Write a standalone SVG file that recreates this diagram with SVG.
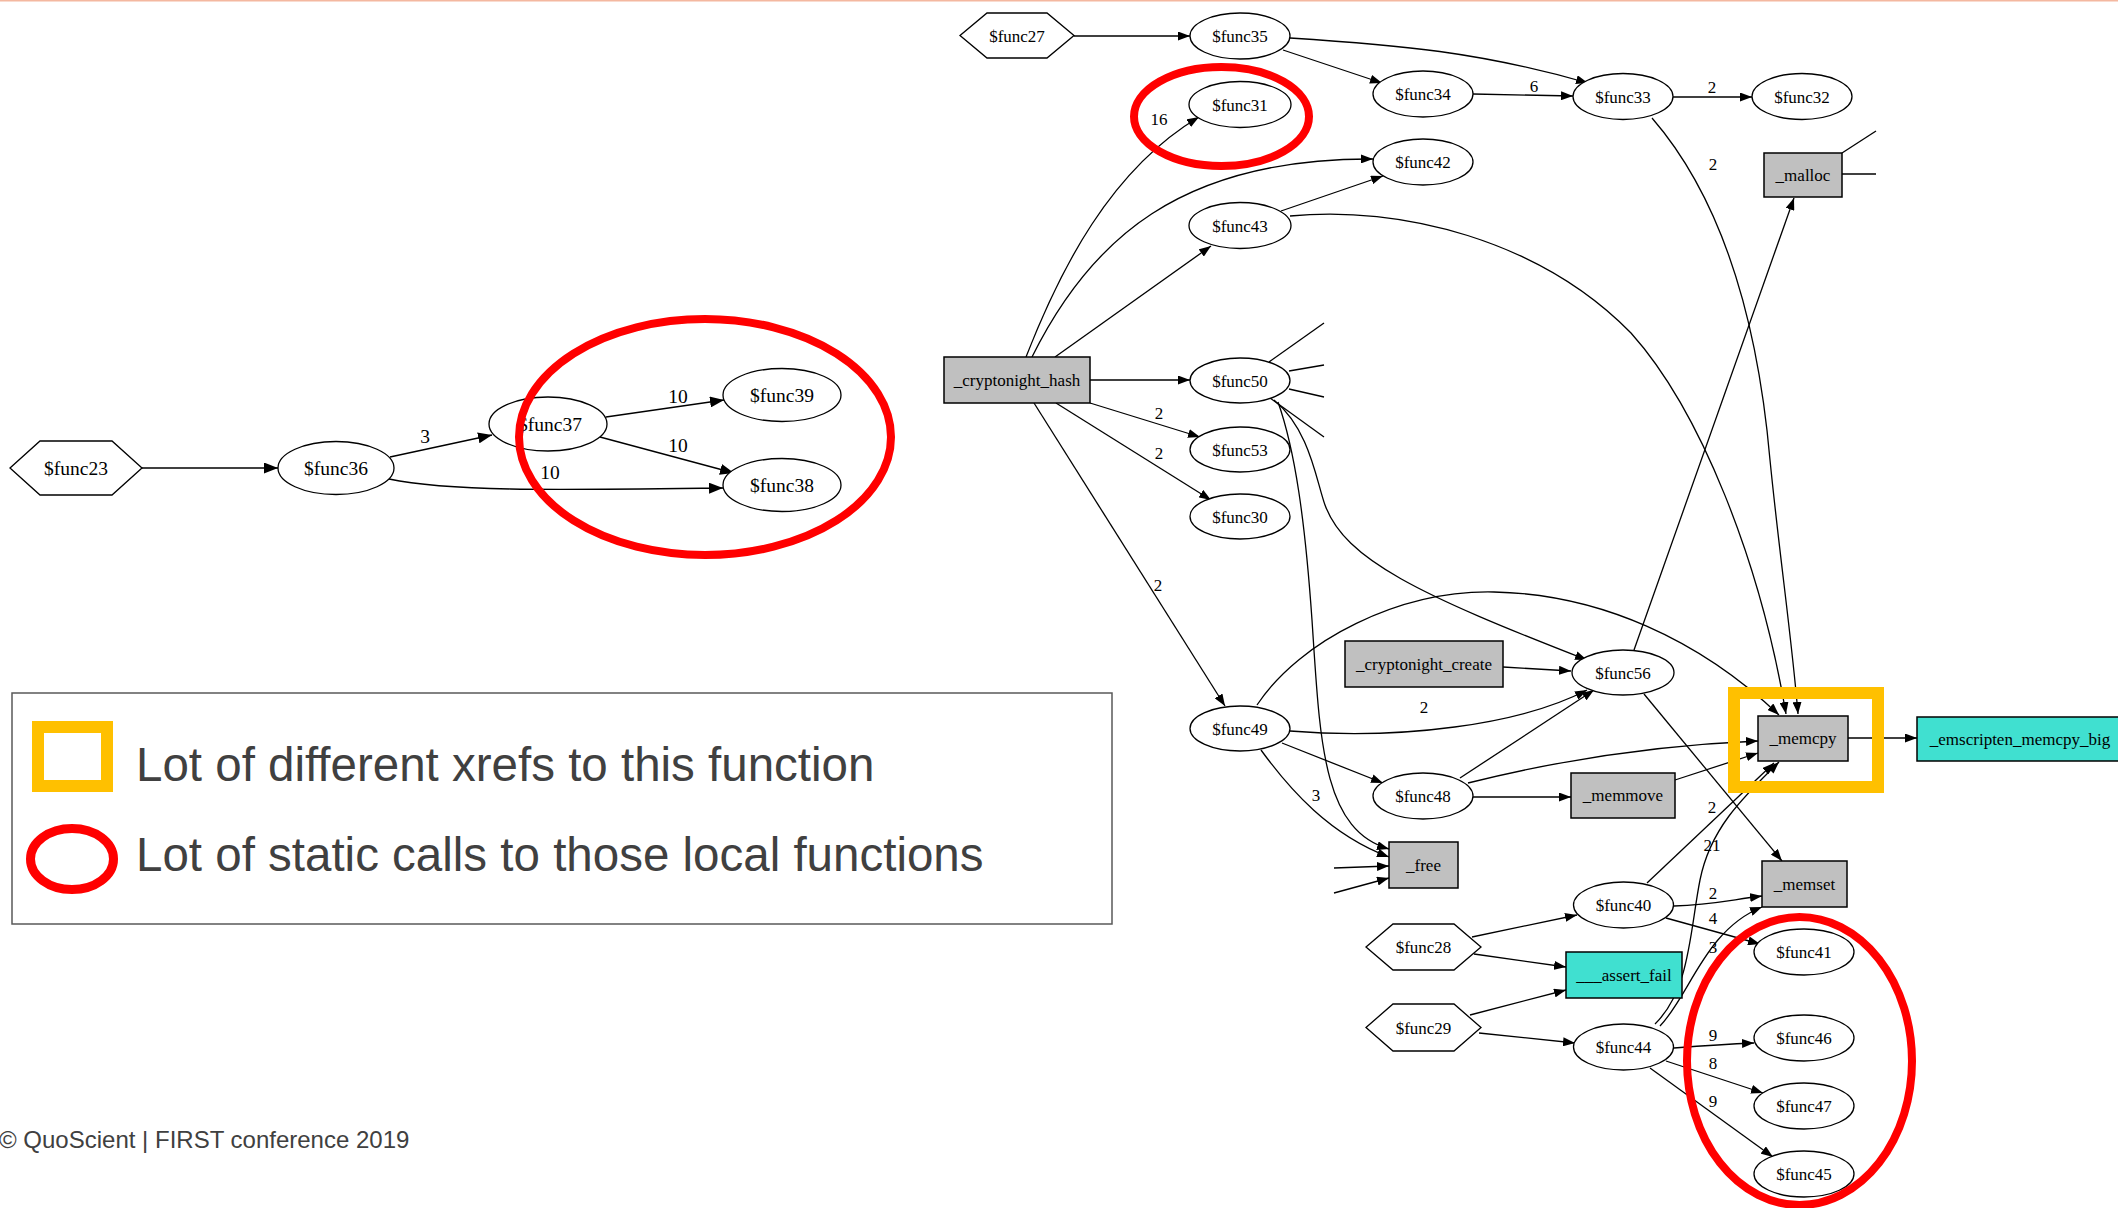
<svg xmlns="http://www.w3.org/2000/svg" width="2118" height="1208" viewBox="0 0 2118 1208">
<style>
.bg{fill:#ffffff}
.n ellipse{fill:#ffffff;stroke:#000;stroke-width:1.3}
.n polygon{fill:#ffffff;stroke:#000;stroke-width:1.3}
.g rect{fill:#c0c0c0;stroke:#000;stroke-width:1.5}
.c rect{fill:#40e0d0;stroke:#000;stroke-width:1.5}
text{font-family:"Liberation Serif","Times New Roman",serif;fill:#000;text-anchor:middle}
.s text{font-size:17px}
.L text{font-size:19.5px}
.e path{fill:none;stroke:#000;stroke-width:1.3}
.e .a{marker-end:url(#ar)}
.e .b{marker-end:url(#arL)}
.lbl{font-size:17px}
.lblL{font-size:19.5px}
.red{fill:none;stroke:#ff0000;stroke-width:8}
.leg{font-family:"Liberation Sans",Arial,sans-serif;fill:#404040;text-anchor:start}
</style>
<defs>
<marker id="ar" markerUnits="userSpaceOnUse" markerWidth="12" markerHeight="9" refX="12" refY="4.5" orient="auto">
<path d="M0,0 L12,4.5 L0,9 z" fill="#000"/>
</marker>
<marker id="arL" markerUnits="userSpaceOnUse" markerWidth="14" markerHeight="11" refX="14" refY="5.5" orient="auto">
<path d="M0,0 L14,5.5 L0,11 z" fill="#000"/>
</marker>
</defs>
<rect class="bg" x="0" y="0" width="2118" height="1208"/>
<rect x="0" y="0" width="2118" height="1.5" fill="#f4b8a0"/>

<!-- connectors -->
<g id="connectors" class="e">
<!-- left graph -->
<path class="b" d="M142,468 L278,468"/>
<path class="b" d="M390,457 L492,435"/>
<path class="b" d="M606,417 L724,400"/>
<path class="b" d="M600,437 L734,473"/>
<path class="b" d="M389,479 C450,492 560,490 723,488"/>
<!-- right graph -->
<path class="a" d="M1074,36 L1190,36"/>
<path class="a" d="M1283,50 L1382,83"/>
<path class="a" d="M1290,38 C1400,45 1480,52 1588,83"/>
<path class="a" d="M1473,94 L1573,96"/>
<path class="a" d="M1673,97 L1752,97"/>
<path class="a" d="M1026,357 C1060,270 1110,170 1199,117"/>
<path class="a" d="M1032,357 C1090,240 1180,158 1373,159"/>
<path class="a" d="M1055,357 L1211,246"/>
<path class="a" d="M1281,211 L1383,176"/>
<path class="a" d="M1290,216 C1400,205 1540,240 1631,333 C1700,410 1760,560 1786,714"/>
<path class="a" d="M1652,118 C1710,185 1755,290 1770,460 C1780,560 1792,640 1798,714"/>
<path class="a" d="M1090,380 L1190,380"/>
<path class="a" d="M1090,403 L1200,437"/>
<path class="a" d="M1056,403 L1211,500"/>
<path class="a" d="M1034,403 L1225,706"/>
<path d="M1269,362 L1324,323"/>
<path d="M1289,371 L1324,365"/>
<path d="M1289,389 L1324,397"/>
<path d="M1270,398 L1324,437"/>
<path class="a" d="M1274,400 C1310,430 1316,480 1325,505 C1345,560 1420,595 1587,660"/>
<path class="a" d="M1278,402 C1295,450 1305,520 1312,620 C1320,740 1322,830 1389,849"/>
<path class="a" d="M1261,750 C1290,790 1330,835 1389,857"/>
<path class="a" d="M1334,868 L1389,866"/>
<path class="a" d="M1334,893 L1389,878"/>
<path class="a" d="M1282,743 L1383,783"/>
<path class="a" d="M1290,731 C1400,740 1520,725 1587,690"/>
<path class="a" d="M1460,778 L1594,690"/>
<path class="a" d="M1468,783 C1560,760 1660,745 1758,741"/>
<path class="a" d="M1473,797 L1571,797"/>
<path class="a" d="M1675,780 L1758,753"/>
<path class="a" d="M1257,705 C1300,640 1400,590 1494,592 C1600,594 1700,640 1779,715"/>
<path class="a" d="M1503,667 L1571,671"/>
<path class="a" d="M1634,650 L1794,198"/>
<path class="a" d="M1644,694 L1782,861"/>
<path class="a" d="M1848,738 L1917,738"/>
<path class="a" d="M1472,937 L1577,915"/>
<path class="a" d="M1474,954 L1566,967"/>
<path class="a" d="M1470,1015 L1566,990"/>
<path class="a" d="M1479,1033 L1575,1043"/>
<path class="a" d="M1674,906 C1710,905 1730,900 1762,896"/>
<path class="a" d="M1666,918 L1760,944"/>
<path class="a" d="M1660,1026 C1690,995 1705,930 1762,907"/>
<path class="a" d="M1655,1024 C1690,990 1690,930 1700,880 C1710,830 1740,800 1779,762"/>
<path class="a" d="M1647,883 L1774,763"/>
<path class="a" d="M1674,1048 C1700,1046 1730,1044 1754,1043"/>
<path class="a" d="M1666,1061 L1763,1093"/>
<path class="a" d="M1650,1068 L1773,1157"/>
<path d="M1842,153 L1876,131"/>
<path d="M1842,174 L1876,174"/>
</g>

<!-- edge labels -->
<g id="edge-labels">
<text class="lblL" x="425" y="443">3</text>
<text class="lblL" x="678" y="403">10</text>
<text class="lblL" x="678" y="452">10</text>
<text class="lblL" x="550" y="479">10</text>
<text class="lbl" x="1534" y="92">6</text>
<text class="lbl" x="1712" y="93">2</text>
<text class="lbl" x="1159" y="125">16</text>
<text class="lbl" x="1713" y="170">2</text>
<text class="lbl" x="1159" y="419">2</text>
<text class="lbl" x="1159" y="459">2</text>
<text class="lbl" x="1158" y="591">2</text>
<text class="lbl" x="1424" y="713">2</text>
<text class="lbl" x="1316" y="801">3</text>
<text class="lbl" x="1712" y="813">2</text>
<text class="lbl" x="1712" y="851">21</text>
<text class="lbl" x="1713" y="899">2</text>
<text class="lbl" x="1713" y="924">4</text>
<text class="lbl" x="1713" y="953">3</text>
<text class="lbl" x="1713" y="1041">9</text>
<text class="lbl" x="1713" y="1069">8</text>
<text class="lbl" x="1713" y="1107">9</text>
</g>

<!-- left graph nodes -->
<g class="L">
<g id="func23" class="n"><polygon points="10,468 40,441 112,441 142,468 112,495 40,495"/><text x="76" y="475">$func23</text></g>
<g id="func36" class="n"><ellipse cx="336" cy="468" rx="58" ry="26.5"/><text x="336" y="475">$func36</text></g>
<g id="func37" class="n"><ellipse cx="548" cy="424" rx="59" ry="27"/><text x="550" y="431">$func37</text></g>
<g id="func39" class="n"><ellipse cx="782" cy="395" rx="59" ry="26.5"/><text x="782" y="402">$func39</text></g>
<g id="func38" class="n"><ellipse cx="782" cy="485" rx="59" ry="26.5"/><text x="782" y="492">$func38</text></g>
</g>

<!-- right graph nodes -->
<g class="s">
<g id="func27" class="n"><polygon points="960,35.5 987,13 1047,13 1074,35.5 1047,58 987,58"/><text x="1017" y="41.5">$func27</text></g>
<g id="func35" class="n"><ellipse cx="1240" cy="36" rx="50" ry="23"/><text x="1240" y="42">$func35</text></g>
<g id="func31" class="n"><ellipse cx="1240" cy="104.5" rx="51" ry="23"/><text x="1240" y="110.5">$func31</text></g>
<g id="func34" class="n"><ellipse cx="1423" cy="94" rx="50" ry="23"/><text x="1423" y="100">$func34</text></g>
<g id="func33" class="n"><ellipse cx="1623" cy="96.5" rx="50" ry="23"/><text x="1623" y="102.5">$func33</text></g>
<g id="func32" class="n"><ellipse cx="1802" cy="96.5" rx="50" ry="23"/><text x="1802" y="102.5">$func32</text></g>
<g id="malloc" class="g"><rect x="1764" y="153" width="78" height="44"/><text x="1803" y="181">_malloc</text></g>
<g id="func42" class="n"><ellipse cx="1423" cy="162" rx="50" ry="23"/><text x="1423" y="168">$func42</text></g>
<g id="func43" class="n"><ellipse cx="1240" cy="225.5" rx="51" ry="23"/><text x="1240" y="231.5">$func43</text></g>
<g id="cryptonight_hash" class="g"><rect x="944" y="357" width="146" height="46"/><text x="1017" y="386">_cryptonight_hash</text></g>
<g id="func50" class="n"><ellipse cx="1240" cy="380.5" rx="50" ry="22.5"/><text x="1240" y="386.5">$func50</text></g>
<g id="func53" class="n"><ellipse cx="1240" cy="449.5" rx="50" ry="22.5"/><text x="1240" y="455.5">$func53</text></g>
<g id="func30" class="n"><ellipse cx="1240" cy="516.5" rx="50" ry="22.5"/><text x="1240" y="522.5">$func30</text></g>
<g id="cryptonight_create" class="g"><rect x="1345" y="641" width="158" height="46"/><text x="1424" y="670">_cryptonight_create</text></g>
<g id="func56" class="n"><ellipse cx="1623" cy="672.5" rx="51" ry="22.5"/><text x="1623" y="678.5">$func56</text></g>
<g id="func49" class="n"><ellipse cx="1240" cy="728.5" rx="50" ry="22.5"/><text x="1240" y="734.5">$func49</text></g>
<g id="func48" class="n"><ellipse cx="1423" cy="796" rx="50" ry="23"/><text x="1423" y="802">$func48</text></g>
<g id="memmove" class="g"><rect x="1571" y="773" width="104" height="45"/><text x="1623" y="801">_memmove</text></g>
<g id="free" class="g"><rect x="1389" y="842" width="69" height="46"/><text x="1423.5" y="871">_free</text></g>
<g id="memcpy" class="g"><rect x="1758" y="716" width="90" height="45"/><text x="1803" y="744">_memcpy</text></g>
<g id="emscripten_memcpy_big" class="c"><rect x="1917" y="717" width="205" height="44"/><text x="2020" y="745">_emscripten_memcpy_big</text></g>
<g id="memset" class="g"><rect x="1762" y="861" width="85" height="46"/><text x="1804.5" y="890">_memset</text></g>
<g id="func40" class="n"><ellipse cx="1623.5" cy="905" rx="50" ry="23"/><text x="1623.5" y="911">$func40</text></g>
<g id="func28" class="n"><polygon points="1366,947 1393,924 1454,924 1481,947 1454,970 1393,970"/><text x="1423.5" y="953">$func28</text></g>
<g id="assert_fail" class="c"><rect x="1566" y="952" width="116" height="46"/><text x="1624" y="981">___assert_fail</text></g>
<g id="func29" class="n"><polygon points="1366,1027.5 1393,1004 1454,1004 1481,1027.5 1454,1051 1393,1051"/><text x="1423.5" y="1033.5">$func29</text></g>
<g id="func44" class="n"><ellipse cx="1623.5" cy="1047" rx="50" ry="23"/><text x="1623.5" y="1053">$func44</text></g>
<g id="func41" class="n"><ellipse cx="1804" cy="952" rx="50" ry="23"/><text x="1804" y="958">$func41</text></g>
<g id="func46" class="n"><ellipse cx="1804" cy="1038" rx="50" ry="23"/><text x="1804" y="1044">$func46</text></g>
<g id="func47" class="n"><ellipse cx="1804" cy="1106" rx="50" ry="23"/><text x="1804" y="1112">$func47</text></g>
<g id="func45" class="n"><ellipse cx="1804" cy="1174" rx="50" ry="23"/><text x="1804" y="1180">$func45</text></g>
</g>

<!-- highlights -->
<g id="highlights">
<ellipse class="red" cx="705" cy="437" rx="186" ry="118"/>
<ellipse class="red" cx="1221.5" cy="116.5" rx="87.5" ry="49.5"/>
<ellipse class="red" cx="1799.5" cy="1061" rx="112.5" ry="144"/>
<rect x="1734" y="693" width="144" height="94" fill="none" stroke="#ffc000" stroke-width="12"/>
</g>

<!-- legend -->
<g id="legend">
<rect x="12" y="693" width="1100" height="231" fill="#ffffff" stroke="#595959" stroke-width="1.5"/>
<rect x="38" y="727" width="69" height="59" fill="none" stroke="#ffc000" stroke-width="12"/>
<ellipse cx="72" cy="859" rx="41.5" ry="30.5" fill="none" stroke="#ff0000" stroke-width="9"/>
<text class="leg" x="136" y="781" font-size="47.5">Lot of different xrefs to this function</text>
<text class="leg" x="136" y="871" font-size="47.5">Lot of static calls to those local functions</text>
</g>

<text class="leg" x="-1" y="1148" font-size="24">© QuoScient | FIRST conference 2019</text>
</svg>
